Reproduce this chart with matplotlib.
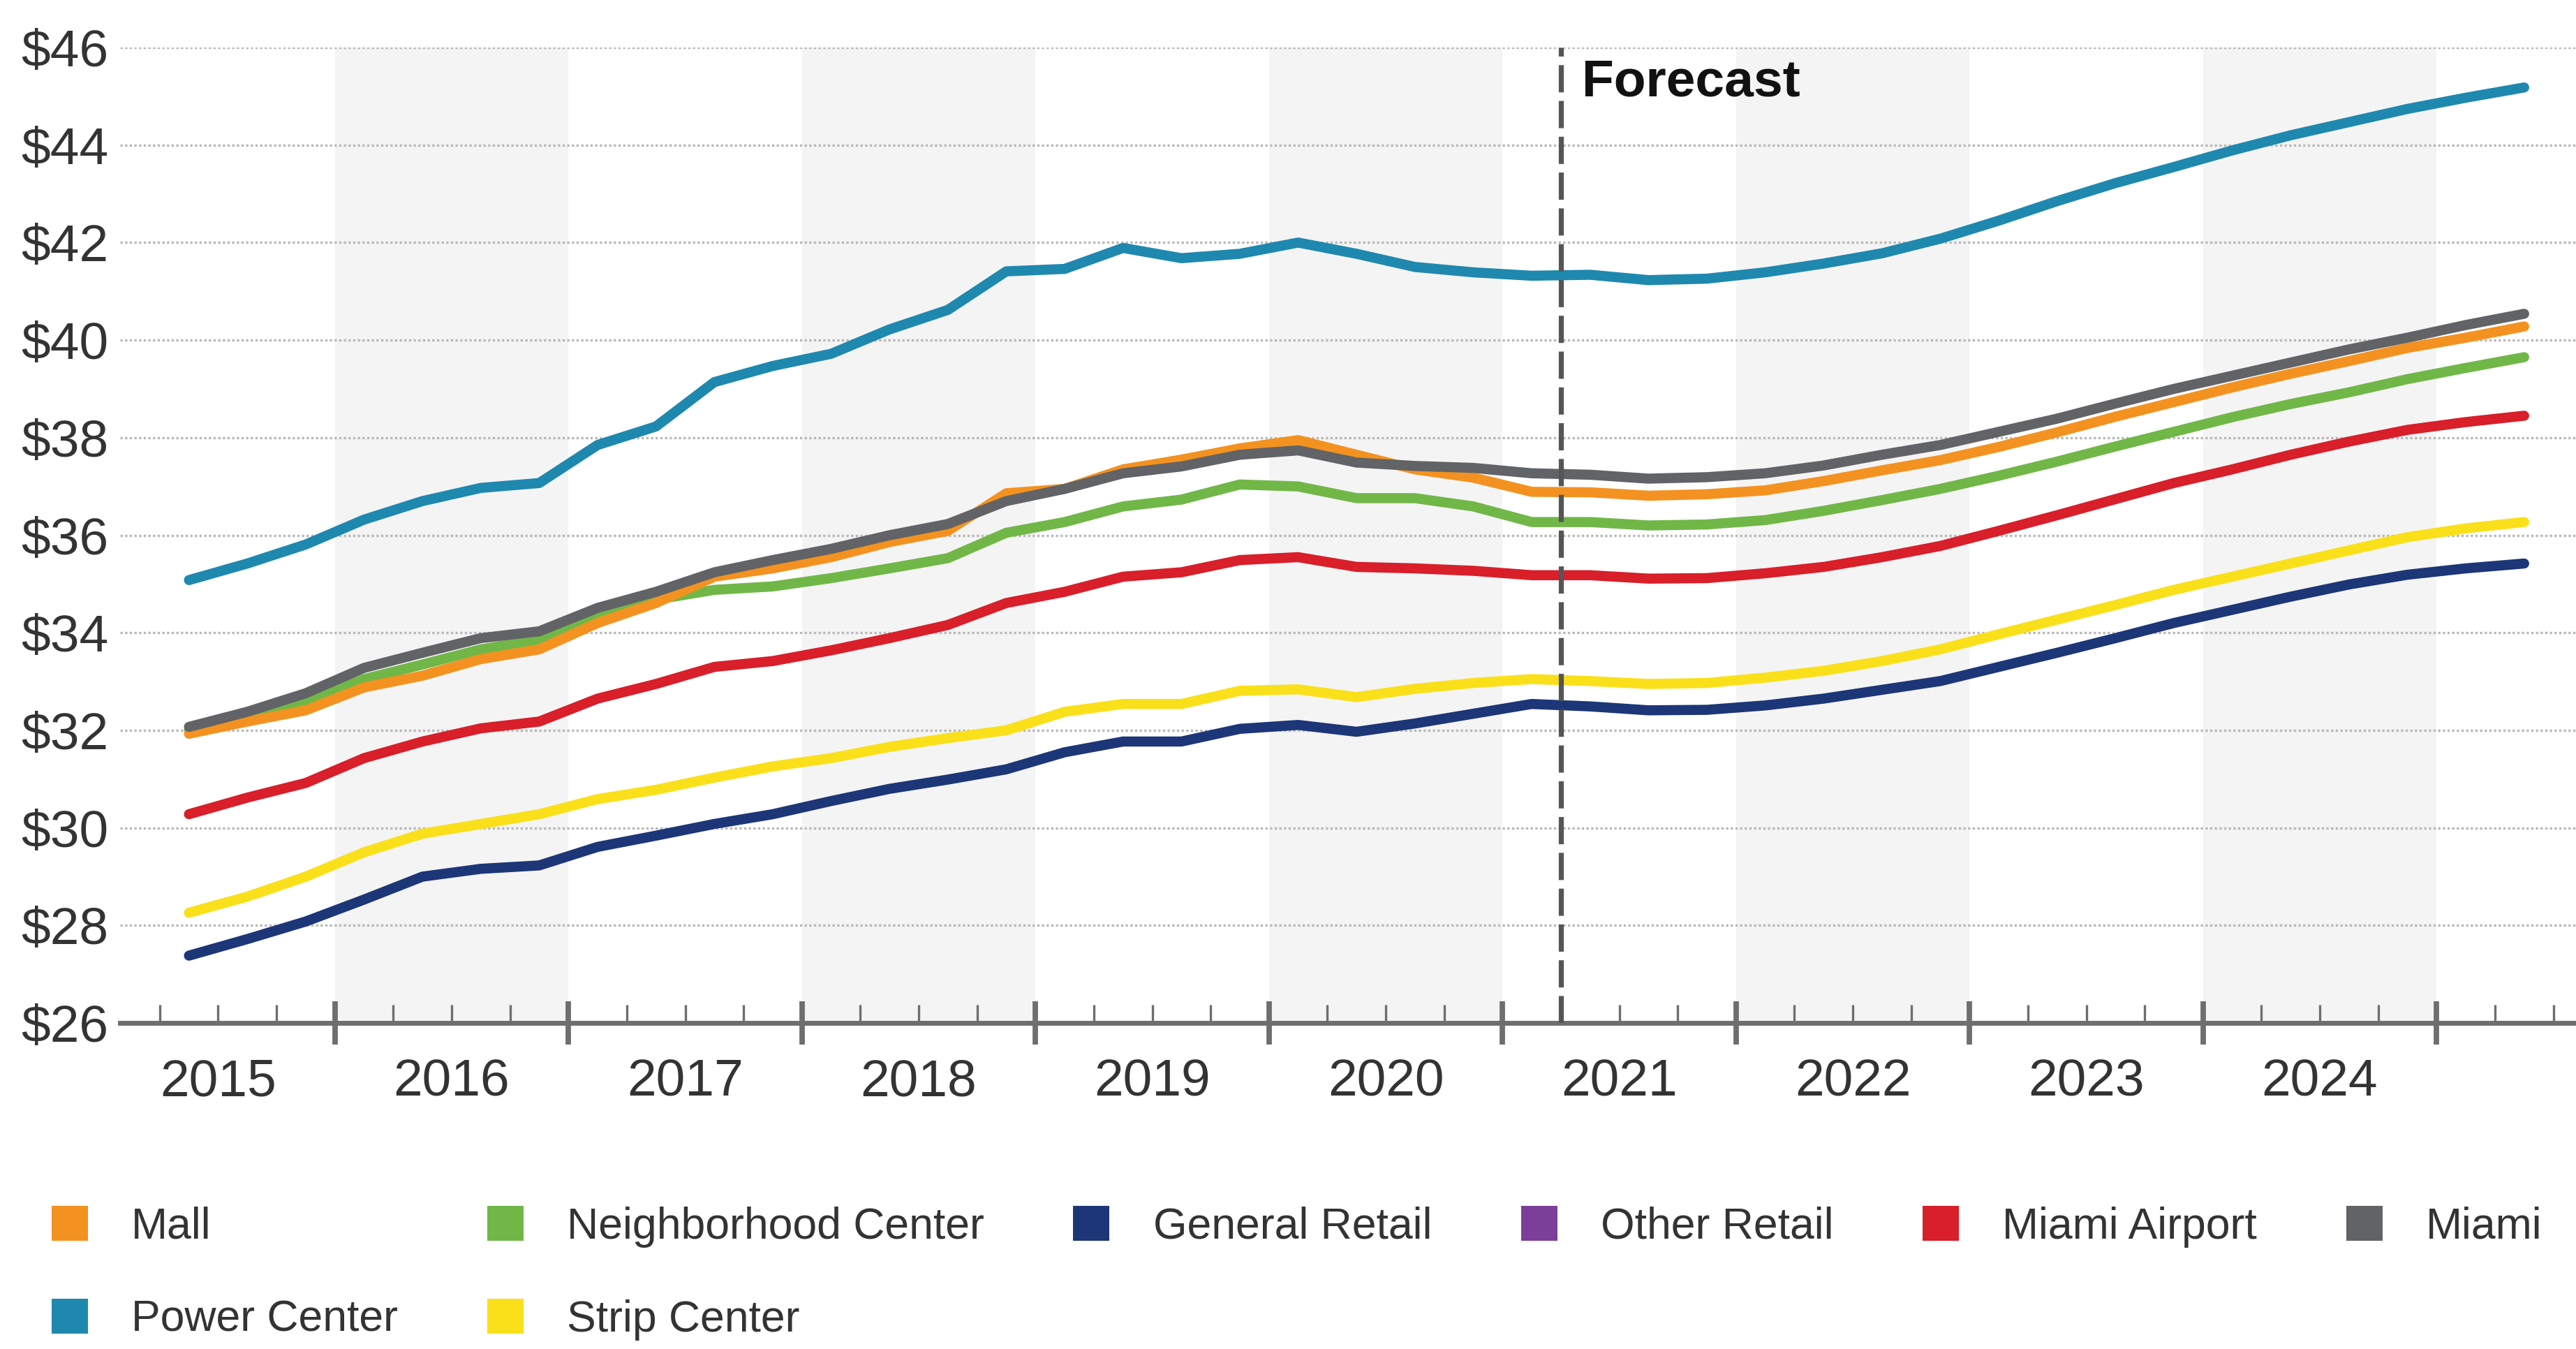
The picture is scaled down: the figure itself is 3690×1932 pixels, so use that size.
import matplotlib
matplotlib.use("Agg")
import matplotlib.pyplot as plt
from matplotlib.patches import Patch
import pandas as pd

plt.rcParams['font.family'] = ['Liberation Sans', 'DejaVu Sans']

# quarterly asking rent per SF, 2015 Q2 .. 2025 Q2
quarters = pd.period_range('2015Q2', '2025Q2', freq='Q')

power_center = [35.08, 35.42, 35.81, 36.32, 36.70, 36.97, 37.07, 37.85, 38.23, 39.14,
                39.47, 39.72, 40.22, 40.62, 41.41, 41.46, 41.89, 41.68, 41.77, 42.00,
                41.77, 41.50, 41.39, 41.32, 41.34, 41.23, 41.26, 41.39, 41.57, 41.78,
                42.08, 42.45, 42.85, 43.22, 43.55, 43.89, 44.20, 44.47, 44.74, 44.97, 45.18]
miami = [32.07, 32.38, 32.76, 33.28, 33.59, 33.89, 34.03, 34.51, 34.84, 35.24,
         35.49, 35.72, 36.00, 36.23, 36.70, 36.95, 37.27, 37.41, 37.65, 37.74,
         37.49, 37.42, 37.38, 37.27, 37.24, 37.16, 37.19, 37.27, 37.43, 37.65,
         37.85, 38.12, 38.39, 38.70, 39.00, 39.27, 39.54, 39.81, 40.05, 40.31, 40.54]
mall = [31.93, 32.18, 32.41, 32.88, 33.12, 33.46, 33.66, 34.20, 34.61, 35.15,
        35.32, 35.55, 35.86, 36.09, 36.86, 36.95, 37.35, 37.55, 37.78, 37.95,
        37.65, 37.35, 37.18, 36.89, 36.88, 36.81, 36.84, 36.92, 37.11, 37.33,
        37.54, 37.81, 38.11, 38.43, 38.73, 39.03, 39.31, 39.57, 39.84, 40.05, 40.28]
neighborhood = [32.00, 32.27, 32.58, 33.05, 33.35, 33.66, 33.86, 34.41, 34.68, 34.88,
                34.95, 35.12, 35.32, 35.53, 36.05, 36.27, 36.59, 36.73, 37.04, 37.00,
                36.76, 36.76, 36.59, 36.27, 36.27, 36.20, 36.22, 36.31, 36.50, 36.72,
                36.95, 37.22, 37.51, 37.82, 38.12, 38.42, 38.69, 38.93, 39.20, 39.43, 39.65]
miami_airport = [30.28, 30.62, 30.92, 31.43, 31.77, 32.04, 32.18, 32.65, 32.95, 33.30,
                 33.42, 33.64, 33.89, 34.16, 34.61, 34.84, 35.15, 35.24, 35.49, 35.55,
                 35.35, 35.32, 35.27, 35.18, 35.18, 35.11, 35.12, 35.22, 35.35, 35.55,
                 35.78, 36.09, 36.41, 36.74, 37.07, 37.35, 37.65, 37.92, 38.16, 38.32, 38.45]
strip_center = [28.26, 28.59, 29.00, 29.50, 29.88, 30.08, 30.28, 30.59, 30.78, 31.03,
                31.26, 31.43, 31.66, 31.84, 32.00, 32.38, 32.54, 32.54, 32.81, 32.84,
                32.68, 32.85, 32.97, 33.05, 33.01, 32.95, 32.97, 33.08, 33.22, 33.42,
                33.66, 33.97, 34.27, 34.57, 34.88, 35.15, 35.42, 35.69, 35.96, 36.14, 36.27]
general_retail = [27.38, 27.72, 28.08, 28.53, 29.00, 29.16, 29.23, 29.61, 29.84, 30.08,
                  30.28, 30.55, 30.80, 30.99, 31.20, 31.55, 31.77, 31.77, 32.03, 32.11,
                  31.97, 32.14, 32.34, 32.54, 32.49, 32.41, 32.42, 32.51, 32.65, 32.83,
                  33.01, 33.30, 33.59, 33.89, 34.20, 34.47, 34.74, 34.99, 35.19, 35.32, 35.42]

years = list(range(2015, 2025))
forecast_start = 2021.25

colors = {
    'Mall': '#F39220',
    'Neighborhood Center': '#71B748',
    'General Retail': '#1C3678',
    'Other Retail': '#7B3F99',
    'Miami Airport': '#D81F2A',
    'Miami': '#616366',
    'Power Center': '#1F88AF',
    'Strip Center': '#FAE01A',
}

# x position = middle of each quarter, in years
x = [q.year + (q.quarter - 1) / 4 + 0.125 for q in quarters]

fig = plt.figure(figsize=(18.455, 9.66), dpi=200)
ax = fig.add_axes([0.0466, 0.2417, 0.9534, 0.7231])

# alternating year bands
for y in years[1::2]:
    ax.axvspan(y, y + 1, color='#f4f4f4', lw=0, zorder=0)

ax.set_ylim(26, 46)
ax.set_xlim(2015.08, 2025.6)
ax.set_yticks(range(26, 47, 2))
ax.set_yticklabels(['$%d' % v for v in range(26, 47, 2)])
ax.yaxis.grid(True, linestyle=(0, (1, 1)), color='#b8b8b8', lw=1.2, zorder=1)
ax.tick_params(axis='y', length=0, pad=6, labelsize=27, labelcolor='#333333')

# year separators (major) and quarter ticks (minor, labelled at mid-year)
ax.set_xticks(range(2016, 2026))
ax.set_xticklabels([])
minor = [y + q / 4 for y in range(2015, 2026) for q in (1, 2, 3) if y + q / 4 < 2025.6]
ax.set_xticks(minor, minor=True)
ax.set_xticklabels([str(int(m)) if (m % 1) == 0.5 and m < 2025 else '' for m in minor],
                   minor=True)
ax.tick_params(axis='x', which='major', direction='inout', length=22.5, width=2.8,
               color='#6e6e6e')
ax.tick_params(axis='x', which='minor', direction='in', length=9.5, width=1.2,
               color='#6e6e6e', pad=18, labelsize=27, labelcolor='#333333')

for s in ['top', 'right', 'left']:
    ax.spines[s].set_visible(False)
ax.spines['bottom'].set_color('#6e6e6e')
ax.spines['bottom'].set_linewidth(2.5)

series = [
    ('Power Center', power_center),
    ('Strip Center', strip_center),
    ('General Retail', general_retail),
    ('Miami Airport', miami_airport),
    ('Neighborhood Center', neighborhood),
    ('Mall', mall),
    ('Miami', miami),
]
for name, vals in series:
    ax.plot(x, vals, color=colors[name], lw=5.2, solid_capstyle='round',
            solid_joinstyle='round', zorder=3)

ax.axvline(forecast_start, color='#555555', lw=2.6, linestyle=(0, (5.4, 1.7)), zorder=4)
ax.text(forecast_start + 0.09, 45.0, 'Forecast', fontsize=27, fontweight='bold',
        color='#111111', ha='left', va='baseline', zorder=5)

order = ['Mall', 'Power Center', 'Neighborhood Center', 'Strip Center',
         'General Retail', 'Other Retail', 'Miami Airport', 'Miami']
handles = [Patch(facecolor=colors[n], edgecolor='none', label=n) for n in order]
fig.legend(handles=handles, loc='center left', bbox_to_anchor=(0.02, 0.0562),
           ncol=6, frameon=False, fontsize=22.5, handlelength=0.83, handleheight=0.85,
           handletextpad=1.0, columnspacing=2.04, labelspacing=1.17, borderpad=0,
           borderaxespad=0, labelcolor='#333333')

fig.savefig('out.png', dpi=200)
